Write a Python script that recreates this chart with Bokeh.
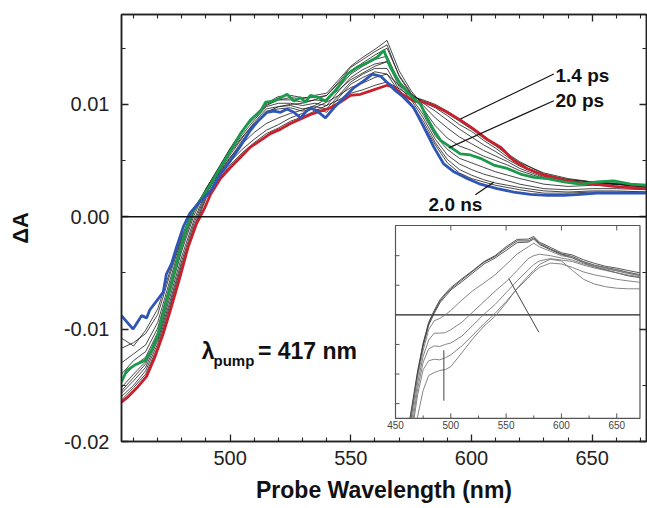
from bokeh.plotting import figure
from bokeh.models import (Range1d, LinearAxis, FixedTicker, PrintfTickFormatter, Span,
                          CustomJSTickFormatter)
from bokeh.core.properties import value
from bokeh.embed import file_html
from bokeh.resources import INLINE

FONT = "Liberation Sans"

# ---------------- main plot data (probe wavelength nm, dA) ----------------
red_x = [455, 457.8, 461.9, 465.4, 468.8, 472.3, 475.7, 479.2, 482.6, 486.1, 489.5, 491.9, 496, 500.2, 504.3, 508.4,
         512.6, 516.7, 520.9, 525, 529.2, 533.3, 537.4, 541.6, 545.7, 549.9, 554, 558.2, 562.3, 565.1, 567.8, 570.6,
         576.1, 580.2, 584.4, 589.9, 595.4, 600.9, 606.4, 612, 617.5, 623, 628.6, 634.1, 639.6, 645.1, 652, 658.9,
         665.9, 673]
red_y = [-0.0165, -0.0160, -0.0151, -0.0142, -0.0125, -0.0104, -0.0080, -0.0054, -0.0027, -0.0006, 0.0008, 0.0020,
         0.0034, 0.0044, 0.0053, 0.0062, 0.0068, 0.0074, 0.0078, 0.0083, 0.0087, 0.0091, 0.0094, 0.0097, 0.0102,
         0.0108, 0.0109, 0.0112, 0.0115, 0.0117, 0.0115, 0.0110, 0.0103, 0.0102, 0.0099, 0.0093, 0.0086, 0.0078,
         0.0069, 0.0062, 0.0050, 0.0043, 0.0038, 0.0035, 0.0032, 0.0030, 0.0029, 0.0027, 0.0026, 0.0025]

green_x = [455, 457.1, 460.5, 464.7, 467.4, 470.2, 472.9, 475.7, 478.5, 481.2, 484, 487.7, 491.9, 496, 500.2, 504.3,
           508.4, 512.6, 514.7, 518.1, 520.9, 523.6, 526.4, 529.2, 531.2, 533.3, 536.7, 539.5, 543, 545.7, 548.5,
           552.6, 556.8, 560.9, 563.7, 566.4, 570.6, 574.7, 578.9, 581.6, 584.4, 587.2, 591.3, 595.4, 599.6, 603.7,
           609.2, 614.8, 620.3, 625.8, 631.4, 638.3, 645.1, 652, 658.9, 665.9, 673]
green_y = [-0.0147, -0.0137, -0.0132, -0.0128, -0.0119, -0.0104, -0.0080, -0.0059, -0.0036, -0.0015, 0.0003, 0.0015,
           0.0029, 0.0044, 0.0059, 0.0074, 0.0086, 0.0094, 0.0102, 0.0103, 0.0106, 0.0109, 0.0103, 0.0106, 0.0102,
           0.0108, 0.0106, 0.0103, 0.0111, 0.0118, 0.0127, 0.0133, 0.0137, 0.0142, 0.0148, 0.0133, 0.0118, 0.0108,
           0.0100, 0.0088, 0.0077, 0.0068, 0.0062, 0.0056, 0.0055, 0.0052, 0.0046, 0.0043, 0.0038, 0.0035, 0.0034,
           0.0031, 0.0029, 0.0031, 0.0032, 0.0029, 0.0028]

blue_x = [455, 459.8, 463.3, 465.4, 466.7, 470.2, 472.3, 473.6, 475.7, 477.8, 480.6, 483.3, 486.8, 491.9, 496, 500.2,
          504.3, 508.4, 511.9, 515.3, 518.1, 520.9, 523.6, 526.4, 529.2, 531.2, 533.3, 536.1, 539.5, 543, 547.1,
          551.3, 555.4, 558.9, 562.4, 565.8, 568.6, 571.5, 576.1, 580.2, 584.4, 588.5, 592.7, 598.2, 603.7, 610.6,
          617.5, 624.4, 631.4, 638.3, 645.1, 652, 658.9, 665.9, 673]
blue_y = [-0.0088, -0.0100, -0.0088, -0.0090, -0.0083, -0.0073, -0.0067, -0.0051, -0.0042, -0.0027, -0.0009, 0.0003,
          0.0012, 0.0023, 0.0038, 0.0050, 0.0063, 0.0077, 0.0086, 0.0093, 0.0094, 0.0093, 0.0096, 0.0093, 0.0088,
          0.0093, 0.0097, 0.0094, 0.0088, 0.0097, 0.0106, 0.0115, 0.0121, 0.0127, 0.0125, 0.0118, 0.0112, 0.0107,
          0.0097, 0.0080, 0.0062, 0.0047, 0.0040, 0.0034, 0.0029, 0.0025, 0.0022, 0.0020, 0.0019, 0.0019, 0.0020,
          0.0021, 0.0021, 0.0021, 0.0021]

# intermediate delay spectra (thin black), common wavelength grid
grid_x = [455, 460, 465, 470, 475, 480, 485, 490, 495, 500, 505, 510, 515, 520, 525, 530, 535, 540, 545, 550, 555,
          560, 565, 570, 575, 580, 585, 590, 595, 600, 605, 610, 615, 620, 630, 640, 650, 660, 673]
k1 = [-0.0163, -0.0152, -0.0140, -0.0116, -0.0082, -0.0045, -0.0011, 0.0016, 0.0033, 0.0046, 0.0057, 0.0066, 0.0074,
      0.0079, 0.0085, 0.0089, 0.0094, 0.0099, 0.0104, 0.0110, 0.0113, 0.0117, 0.0120, 0.0114, 0.0107, 0.0104, 0.0100,
      0.0094, 0.0087, 0.0080, 0.0072, 0.0064, 0.0056, 0.0049, 0.0038, 0.0033, 0.0031, 0.0029, 0.0027]
k2 = [-0.0160, -0.0150, -0.0137, -0.0113, -0.0079, -0.0042, -0.0009, 0.0018, 0.0035, 0.0049, 0.0060, 0.0069, 0.0077,
      0.0082, 0.0088, 0.0092, 0.0097, 0.0102, 0.0108, 0.0115, 0.0119, 0.0124, 0.0127, 0.0117, 0.0108, 0.0103, 0.0099,
      0.0092, 0.0085, 0.0078, 0.0070, 0.0063, 0.0055, 0.0048, 0.0039, 0.0034, 0.0031, 0.0030, 0.0027]
k3 = [-0.0157, -0.0146, -0.0134, -0.0110, -0.0076, -0.0039, -0.0006, 0.0020, 0.0038, 0.0053, 0.0065, 0.0075, 0.0083,
      0.0088, 0.0092, 0.0095, 0.0099, 0.0105, 0.0113, 0.0122, 0.0128, 0.0134, 0.0138, 0.0121, 0.0109, 0.0102, 0.0097,
      0.0090, 0.0082, 0.0076, 0.0068, 0.0061, 0.0053, 0.0046, 0.0037, 0.0033, 0.0031, 0.0029, 0.0026]
k4 = [-0.0155, -0.0143, -0.0131, -0.0108, -0.0072, -0.0035, -0.0003, 0.0022, 0.0040, 0.0057, 0.0071, 0.0083, 0.0093,
      0.0098, 0.0100, 0.0101, 0.0104, 0.0108, 0.0119, 0.0130, 0.0137, 0.0144, 0.0150, 0.0126, 0.0110, 0.0101, 0.0094,
      0.0086, 0.0078, 0.0071, 0.0064, 0.0058, 0.0051, 0.0045, 0.0036, 0.0032, 0.0030, 0.0029, 0.0027]
k5 = [-0.0152, -0.0140, -0.0129, -0.0106, -0.0068, -0.0030, 0.0001, 0.0024, 0.0042, 0.0060, 0.0076, 0.0088, 0.0099,
      0.0104, 0.0106, 0.0105, 0.0108, 0.0110, 0.0122, 0.0134, 0.0142, 0.0149, 0.0157, 0.0130, 0.0112, 0.0099, 0.0088,
      0.0079, 0.0071, 0.0065, 0.0059, 0.0054, 0.0049, 0.0043, 0.0035, 0.0031, 0.0030, 0.0029, 0.0026]
k6 = [-0.0144, -0.0133, -0.0125, -0.0103, -0.0065, -0.0027, 0.0004, 0.0025, 0.0043, 0.0061, 0.0077, 0.0090, 0.0101,
      0.0107, 0.0108, 0.0106, 0.0106, 0.0108, 0.0120, 0.0133, 0.0140, 0.0147, 0.0153, 0.0125, 0.0109, 0.0096, 0.0081,
      0.0070, 0.0063, 0.0059, 0.0054, 0.0050, 0.0046, 0.0041, 0.0034, 0.0031, 0.0030, 0.0029, 0.0027]
k7 = [-0.0140, -0.0128, -0.0120, -0.0099, -0.0061, -0.0024, 0.0006, 0.0025, 0.0042, 0.0060, 0.0076, 0.0089, 0.0100,
      0.0104, 0.0104, 0.0102, 0.0104, 0.0103, 0.0115, 0.0127, 0.0134, 0.0140, 0.0143, 0.0120, 0.0106, 0.0091, 0.0072,
      0.0060, 0.0052, 0.0048, 0.0044, 0.0040, 0.0037, 0.0034, 0.0029, 0.0027, 0.0028, 0.0027, 0.0026]
k8 = [-0.0130, -0.0122, -0.0114, -0.0094, -0.0057, -0.0021, 0.0007, 0.0024, 0.0041, 0.0058, 0.0073, 0.0086, 0.0098,
      0.0101, 0.0101, 0.0099, 0.0101, 0.0099, 0.0112, 0.0124, 0.0131, 0.0136, 0.0138, 0.0116, 0.0104, 0.0088, 0.0069,
      0.0055, 0.0047, 0.0042, 0.0038, 0.0035, 0.0032, 0.0029, 0.0025, 0.0024, 0.0025, 0.0025, 0.0024]
k9 = [-0.0117, -0.0112, -0.0104, -0.0087, -0.0052, -0.0019, 0.0008, 0.0022, 0.0039, 0.0055, 0.0070, 0.0084, 0.0096,
      0.0098, 0.0099, 0.0096, 0.0098, 0.0096, 0.0108, 0.0120, 0.0127, 0.0132, 0.0132, 0.0113, 0.0101, 0.0085, 0.0066,
      0.0051, 0.0042, 0.0037, 0.0033, 0.0030, 0.0028, 0.0026, 0.0023, 0.0022, 0.0023, 0.0023, 0.0022]
k10 = [-0.0108, -0.0115, -0.0101, -0.0082, -0.0049, -0.0017, 0.0008, 0.0021, 0.0037, 0.0052, 0.0068, 0.0082, 0.0094,
       0.0096, 0.0097, 0.0094, 0.0096, 0.0093, 0.0106, 0.0118, 0.0124, 0.0129, 0.0127, 0.0111, 0.0099, 0.0082, 0.0064,
       0.0048, 0.0039, 0.0034, 0.0031, 0.0028, 0.0026, 0.0024, 0.0021, 0.0021, 0.0022, 0.0022, 0.0022]

x_major = [500, 550, 600, 650]
x_minor = [460, 470, 480, 490, 510, 520, 530, 540, 560, 570, 580, 590, 610, 620, 630, 640, 660, 670]
y_major = [-0.02, -0.01, 0.0, 0.01]
y_minor = [-0.015, -0.005, 0.005, 0.015]

# annotations
ann_labels = ["1.4 ps", "20 ps", "2.0 ns"]
ann_text_x = [634.8, 634.8, 582.2]
ann_text_y = [0.01259, 0.01033, 0.00113]
ann_x0 = [595.4, 590.6, 601.6]
ann_y0 = [0.0087, 0.00613, 0.00195]
ann_x1 = [634.1, 634.1, 609.2]
ann_y1 = [0.0127, 0.01033, 0.00307]

lam_text = ["λ", "pump", "= 417 nm"]
lam_x = [488.2, 493.1, 511.5]
lam_y = [-0.01197, -0.01281, -0.01197]

# ---------------- inset data (nm, arbitrary units) ----------------
ins_grid = [470, 475, 480, 485, 490, 495, 500, 510, 520, 530, 540, 550, 560, 570, 575, 580, 590, 600, 610, 620,
            630, 640, 650, 660, 671]
ins_t1 = [-1.95, -1.0, -0.3, 0.1, 0.45, 0.68, 0.88, 1.18, 1.48, 1.78, 1.97, 2.25, 2.5, 2.5, 2.6, 2.42, 2.23, 2.06,
          1.97, 1.8, 1.68, 1.6, 1.53, 1.44, 1.36]
ins_t2 = [-1.9, -0.95, -0.25, 0.15, 0.5, 0.72, 0.92, 1.22, 1.5, 1.8, 2.0, 2.3, 2.55, 2.56, 2.65, 2.46, 2.28, 2.1,
          2.02, 1.86, 1.74, 1.64, 1.58, 1.5, 1.42]
ins_t3 = [-2.0, -1.05, -0.35, 0.05, 0.4, 0.62, 0.84, 1.12, 1.42, 1.72, 1.92, 2.18, 2.44, 2.46, 2.56, 2.38, 2.2, 2.04,
          1.92, 1.76, 1.62, 1.52, 1.42, 1.32, 1.26]
ins_m1 = [-2.1, -1.2, -0.5, -0.2, -0.12, 0.0, 0.15, 0.5, 0.82, 1.08, 1.35, 1.7, 2.06, 2.3, 2.42, 2.3, 2.15, 2.0,
          1.93, 1.78, 1.66, 1.58, 1.5, 1.42, 1.34]
ins_m2 = [-2.3, -1.4, -0.85, -0.62, -0.62, -0.6, -0.5, -0.25, 0.1, 0.45, 0.8, 1.12, 1.5, 1.9, 2.0, 2.05, 2.0, 1.92,
          1.85, 1.72, 1.62, 1.55, 1.48, 1.4, 1.32]
ins_m3 = [-2.5, -1.6, -1.15, -1.05, -1.07, -1.0, -0.95, -0.72, -0.35, 0.02, 0.35, 0.75, 1.15, 1.52, 1.7, 1.82, 1.9,
          1.85, 1.8, 1.68, 1.58, 1.5, 1.42, 1.35, 1.28]
ins_m4 = [-2.7, -1.85, -1.55, -1.5, -1.52, -1.45, -1.35, -1.05, -0.68, -0.3, 0.05, 0.45, 0.88, 1.25, 1.45, 1.6,
          1.75, 1.72, 1.6, 1.45, 1.35, 1.28, 1.2, 1.15, 1.1]
ins_low_x = [469.6, 475, 480, 485, 490, 495, 500, 510, 520, 530, 540, 550, 560, 570, 575, 580, 590, 600, 610, 620,
             630, 640, 650, 660, 671]
ins_low = [-3.5, -2.55, -2.05, -1.95, -1.88, -1.85, -1.75, -1.28, -0.8, -0.38, -0.05, 0.4, 0.9, 1.32, 1.5, 1.7,
           1.88, 1.82, 1.5, 1.2, 1.04, 0.95, 0.9, 0.88, 0.88]
# points where the curves come in at the bottom edge of the inset
ins_entry_x = [463.5, 463.0, 464.0, 463.8, 465.0, 466.0, 466.8]
ins_entry_y = [-3.5, -3.5, -3.5, -3.5, -3.5, -3.5, -3.5]

ins_xlim = [450, 671]
ins_ylim = [-3.5, 3.02]
ins_x_major = [450, 500, 550, 600, 650]
ins_x_minor = [475, 525, 575, 625]
ins_x_top = [500, 550, 600, 650]
ins_y_ticks = [-3, -2, -1, 1, 2]
ins_arrow_x0 = [493.7, 552.5]
ins_arrow_y0 = [-1.2, 1.22]
ins_arrow_x1 = [493.7, 579.6]
ins_arrow_y1 = [-2.9, -0.59]

# ---------------- figure ----------------
p = figure(width=647, height=508, output_backend="svg", toolbar_location=None,
           x_range=Range1d(455, 672.5), y_range=Range1d(-0.02, 0.018),
           min_border_left=121, min_border_right=1, min_border_top=14, min_border_bottom=67,
           x_axis_label="Probe Wavelength (nm)", y_axis_label="ΔA")
p.grid.visible = False
p.background_fill_color = "white"
p.border_fill_color = "white"
p.outline_line_color = "#222222"
p.outline_line_width = 1.5

# inset coordinate system mapped onto the main frame
p.extra_x_ranges = {"ix": Range1d(202.3, 676.9)}
p.extra_y_ranges = {"iy": Range1d(-4.28, 10.15)}

blank = CustomJSTickFormatter(code="return ''")


def style_axis(ax, labels=True):
    ax.axis_line_color = "#222222"
    ax.axis_line_width = 1.5
    ax.major_tick_line_color = "#222222"
    ax.minor_tick_line_color = "#222222"
    ax.major_tick_line_width = 1.3
    ax.minor_tick_line_width = 1.1
    ax.major_tick_in = 7
    ax.major_tick_out = 0
    ax.minor_tick_in = 4
    ax.minor_tick_out = 0
    ax.major_label_text_font = FONT
    ax.major_label_text_color = "#222222"
    ax.major_label_text_font_size = "20px"
    if not labels:
        ax.formatter = blank
        ax.major_label_standoff = 0


xb = p.xaxis[0]
xb.ticker = FixedTicker(ticks=x_major, minor_ticks=x_minor)
style_axis(xb)
xb.major_label_standoff = 9
xb.axis_label_text_font = FONT
xb.axis_label_text_font_style = "bold"
xb.axis_label_text_font_size = "23px"
xb.axis_label_text_color = "#111111"
xb.axis_label_standoff = 9

yl = p.yaxis[0]
yl.ticker = FixedTicker(ticks=y_major, minor_ticks=y_minor)
yl.formatter = PrintfTickFormatter(format="%.2f")
style_axis(yl)
yl.major_label_standoff = 12
yl.axis_label_text_font = FONT
yl.axis_label_text_font_style = "bold"
yl.axis_label_text_font_size = "22px"
yl.axis_label_text_color = "#111111"
yl.axis_label_standoff = 28

xt = LinearAxis(ticker=FixedTicker(ticks=x_major, minor_ticks=x_minor))
style_axis(xt, labels=False)
p.add_layout(xt, "above")
yr = LinearAxis(ticker=FixedTicker(ticks=y_major, minor_ticks=y_minor))
style_axis(yr, labels=False)
p.add_layout(yr, "right")

p.add_layout(Span(location=0, dimension="width", line_color="#111111", line_width=1.5))

# spectra
blacks = [k1, k2, k3, k4, k5, k6, k7, k8, k9, k10]
p.multi_line(xs=[grid_x] * len(blacks), ys=blacks, line_color="#1a1a1a", line_width=0.8)
p.line(red_x, red_y, line_color="#c8202c", line_width=2.8)
p.line(green_x, green_y, line_color="#1c9a4c", line_width=2.8)
p.line(blue_x, blue_y, line_color="#2f56b5", line_width=2.8)

# annotations
p.segment(x0=ann_x0, y0=ann_y0, x1=ann_x1, y1=ann_y1, line_color="#111111", line_width=1.2)
p.text(x=ann_text_x, y=ann_text_y, text=ann_labels, text_font=value(FONT), text_font_style="bold",
       text_font_size="19px", text_color="#111111", text_baseline="alphabetic", text_align="left")

lam_size = ["23px", "15px", "23px"]
p.text(x=lam_x, y=lam_y, text=lam_text, text_font=value(FONT), text_font_style="bold",
       text_font_size=lam_size, text_color="#111111", text_baseline="alphabetic", text_align="left")

# ---------------- inset ----------------
IX, IY = "ix", "iy"
p.quad(left=[ins_xlim[0]], right=[ins_xlim[1]], bottom=[ins_ylim[0]], top=[ins_ylim[1]],
       fill_color="white", line_color="#555555", line_width=1.2, x_range_name=IX, y_range_name=IY)
p.segment(x0=[ins_xlim[0]], y0=[0], x1=[ins_xlim[1]], y1=[0], line_color="#222222", line_width=1.2,
          x_range_name=IX, y_range_name=IY)

ins_curves = [ins_t1, ins_t2, ins_t3, ins_m1, ins_m2, ins_m3, ins_m4]
ins_xs = [[ex] + ins_grid for ex in ins_entry_x] + [ins_low_x]
ins_ys = [[ey] + c for ey, c in zip(ins_entry_y, ins_curves)] + [ins_low]
ins_colors = ["#444444", "#444444", "#444444", "#777777", "#777777", "#777777", "#777777", "#777777"]
p.multi_line(xs=ins_xs, ys=ins_ys, line_color=ins_colors, line_width=0.9, x_range_name=IX, y_range_name=IY)

p.segment(x0=ins_arrow_x0, y0=ins_arrow_y0, x1=ins_arrow_x1, y1=ins_arrow_y1, line_color="#444444",
          line_width=1.0, x_range_name=IX, y_range_name=IY)

# inset ticks (lengths in inset units: 1 px ~ 0.034 units vertically, ~0.9 nm horizontally)
tk_major = 0.17
tk_minor = 0.10
bx0 = ins_x_major + ins_x_minor
by0 = [ins_ylim[0]] * len(bx0)
by1 = [ins_ylim[0] + tk_major] * len(ins_x_major) + [ins_ylim[0] + tk_minor] * len(ins_x_minor)
p.segment(x0=bx0, y0=by0, x1=bx0, y1=by1, line_color="#555555", line_width=1.0, x_range_name=IX, y_range_name=IY)
p.segment(x0=ins_x_top, y0=[ins_ylim[1]] * len(ins_x_top), x1=ins_x_top,
          y1=[ins_ylim[1] - tk_major] * len(ins_x_top), line_color="#555555", line_width=1.0,
          x_range_name=IX, y_range_name=IY)
p.segment(x0=[ins_xlim[0]] * len(ins_y_ticks), y0=ins_y_ticks, x1=[ins_xlim[0] + 3.6] * len(ins_y_ticks),
          y1=ins_y_ticks, line_color="#555555", line_width=1.0, x_range_name=IX, y_range_name=IY)
p.text(x=ins_x_major, y=[ins_ylim[0]] * len(ins_x_major), text=[str(v) for v in ins_x_major],
       text_font=value(FONT), text_font_size="10px", text_color="#444444", text_align="center",
       text_baseline="top", y_offset=3, x_range_name=IX, y_range_name=IY)

open("out.html", "w").write(file_html(p, INLINE))
